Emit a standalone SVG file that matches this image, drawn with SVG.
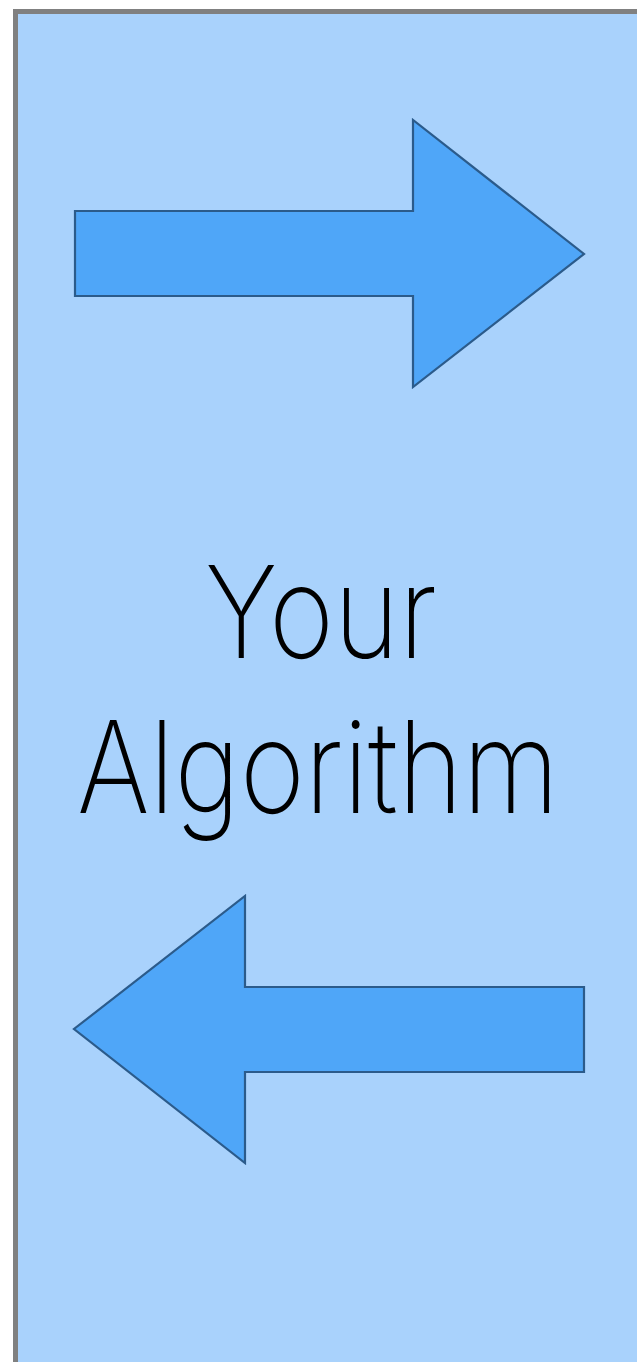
<svg xmlns="http://www.w3.org/2000/svg" width="637" height="1362" viewBox="0 0 637 1362">
<style>
.arrow{fill:#4fa6f8;stroke:#2b5b8b;stroke-width:2.2;stroke-linejoin:miter}
.lbl{font-family:Inter,"Lato","Liberation Sans",sans-serif;font-weight:200;font-size:128px;fill:#000;text-anchor:middle}
</style>
<rect x="0" y="0" width="637" height="1362" fill="#ffffff"/>
<g id="box">
<rect x="15.5" y="11.5" width="621.5" height="1350.5" fill="#a9d2fc"/>
<path d="M15.5,1362 V11.5 H637" fill="none" stroke="#808080" stroke-width="5"/>
<text class="lbl" x="321" y="658" textLength="232" lengthAdjust="spacingAndGlyphs">Your</text>
<text class="lbl" x="318" y="813" textLength="482" lengthAdjust="spacingAndGlyphs">Algorithm</text>
</g>
<g id="connectors">
<polygon id="arrow-right" class="arrow" points="75,211 413,211 413,120 584,254 413,387 413,296 75,296"/>
<polygon id="arrow-left" class="arrow" points="584,987 245,987 245,896 74,1029 245,1163 245,1072 584,1072"/>
</g>
</svg>
